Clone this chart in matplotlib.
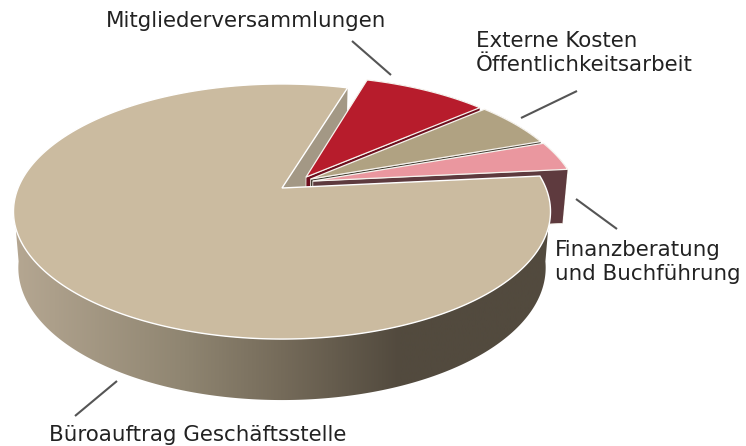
import numpy as np
import matplotlib
matplotlib.use('Agg')
import matplotlib.pyplot as plt
from matplotlib.colors import LinearSegmentedColormap
from matplotlib.patches import Polygon

labels = ['Mitgliederversammlungen', 'Externe Kosten\nÖffentlichkeitsarbeit',
          'Finanzberatung\nund Buchführung', 'Büroauftrag Geschäftsstelle']
values = [9.0, 5.9, 3.8, 81.3]

# slice look, same order as values
top_colors = ['#b71c2c', '#b0a282', '#ea979f', '#cbbba0']
wall_colors = ['#6e0f1e', '#3f3a30', '#5e3a3e', '#a39885']
explode = [(0.0925, 0.09), (0.11, 0.0735), (0.118, 0.057), (0.0, 0.0)]

START_ANGLE = 73.0
CX, CY = 282, 188
A, B, K = 263.9, 123.2, 0.1844
SHRINK, H0, HC = 0.982, 55.0, 6.0


def top_xy(x, y):
    d = 1 + K * y
    return CX + A * x / d, CY - B * y / d


def bottom_xy(x, y):
    px, py = top_xy(x, y)
    return CX + SHRINK * (px - CX), py + H0 - HC * y


def ring(a0, a1, off, n=200):
    t = np.radians(np.linspace(a0, a1, n))
    return off[0] + np.cos(t), off[1] + np.sin(t)


def face(xs, ys, func):
    px, py = func(np.asarray(xs), np.asarray(ys))
    return np.column_stack([px, py])


fig = plt.figure(figsize=(7.46, 4.46), dpi=100)
ax = fig.add_axes([0, 0, 1, 1])

# angles of each slice, clockwise from the start
ends = START_ANGLE - np.cumsum(values) * 3.6
starts = np.r_[START_ANGLE, ends[:-1]]

# big slice: outer wall with gradient, front part only so the polygon does not fold
big = len(values) - 1
x, y = ring(-8, -172, explode[big], 300)
wall = np.vstack([face(x, y, top_xy), face(x, y, bottom_xy)[::-1]])
cmap = LinearSegmentedColormap.from_list('wall', [
    (0.0, '#b5a792'), (0.32, '#8f8571'), (0.5, '#756b5a'), (0.72, '#524a3e'), (1.0, '#524a3e')])
im = ax.imshow(np.linspace(0, 1, 256)[None, :], extent=[13, 550, 446, 0], cmap=cmap, aspect='auto', zorder=1)
im.set_clip_path(Polygon(wall, transform=ax.transData))

# cut face of the big slice behind the red one
x, y = ring(starts[big], ends[big], explode[big], 400)
ox, oy = explode[big]
ex, ey = x[-1], y[-1]
cut = np.vstack([face([ox, ex], [oy, ey], top_xy), face([ex, ox], [ey, oy], bottom_xy)])
ax.add_patch(Polygon(cut, closed=True, fc=wall_colors[big], ec='none', zorder=2))

# exploded slices, back to front
z = 3
for i in range(big):
    ox, oy = explode[i]
    x, y = ring(starts[i], ends[i], explode[i])
    # front cut face plus rim
    wx = np.r_[ox, x[-1]]
    wy = np.r_[oy, y[-1]]
    w = np.vstack([face(wx, wy, top_xy), face(wx[::-1], wy[::-1], bottom_xy)])
    ax.add_patch(Polygon(w, closed=True, fc=wall_colors[i], ec='#f0ece4', lw=0.6, zorder=z))
    rim = np.vstack([face(x, y, top_xy), face(x, y, bottom_xy)[::-1]])
    ax.add_patch(Polygon(rim, closed=True, fc=wall_colors[i], ec='none', zorder=z))
    top = np.vstack([face([ox], [oy], top_xy), face(x, y, top_xy)])
    ax.add_patch(Polygon(top, closed=True, fc=top_colors[i], ec='#f6f3ee', lw=0.9, zorder=z + 1))
    z += 2

# big slice top goes over everything
x, y = ring(starts[big], ends[big], explode[big], 400)
top = np.vstack([face([explode[big][0]], [explode[big][1]], top_xy), face(x, y, top_xy)])
ax.add_patch(Polygon(top, closed=True, fc=top_colors[big], ec='#ffffff', lw=1.0, zorder=z))

# leader lines
leaders = [((352, 41), (391, 75)), ((577, 91), (521, 118)), ((576, 199), (617, 229)), ((117, 381), (75, 416))]
for p, q in leaders:
    ax.plot([p[0], q[0]], [p[1], q[1]], color='#555555', lw=1.5, zorder=z + 1, solid_capstyle='butt')

fs = 15.4
txt = dict(fontsize=fs, family='DejaVu Sans', color='#222222', va='center', ha='left', linespacing=1.2)
ax.text(106, 21, labels[0], **txt)
ax.text(476, 53, labels[1], **txt)
ax.text(555, 262, labels[2], **txt)
ax.text(49, 435, labels[3], **txt)

ax.set_xlim(0, 746)
ax.set_ylim(446, 0)
ax.axis('off')
fig.savefig('out.png', dpi=100)
